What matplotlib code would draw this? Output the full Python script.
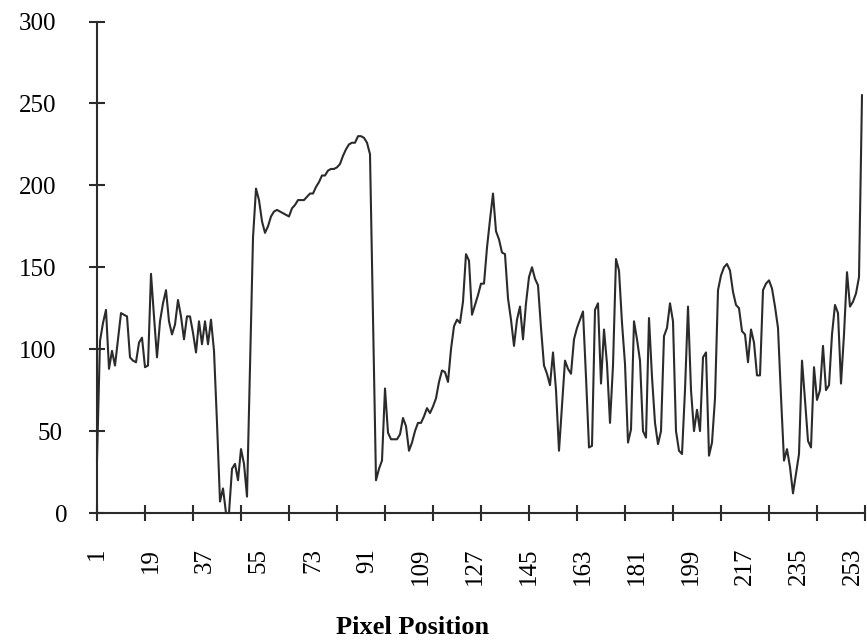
import numpy as np
import matplotlib.pyplot as plt
from matplotlib.transforms import ScaledTranslation

# grey level along one row of the image
grey = [
    32, 105, 116, 124, 88, 99, 90, 106, 122, 121,
    120, 95, 93, 92, 104, 107, 89, 90, 146, 120,
    95, 117, 128, 136, 117, 109, 115, 130, 120, 106,
    120, 120, 110, 98, 117, 103, 117, 103, 118, 99,
    55, 7, 15, 0, 0, 27, 30, 20, 39, 30,
    10, 90, 168, 198, 191, 178, 171, 175, 181, 184,
    185, 184, 183, 182, 181, 186, 188, 191, 191, 191,
    193, 195, 195, 199, 202, 206, 206, 209, 210, 210,
    211, 213, 218, 222, 225, 226, 226, 230, 230, 229,
    226, 219, 120, 20, 27, 32, 76, 49, 45, 45,
    45, 48, 58, 53, 38, 43, 50, 55, 55, 59,
    64, 61, 65, 70, 80, 87, 86, 80, 100, 114,
    118, 116, 129, 158, 154, 121, 127, 133, 140, 140,
    162, 179, 195, 172, 167, 159, 158, 131, 118, 102,
    118, 126, 106, 128, 144, 150, 143, 139, 113, 90,
    85, 78, 98, 75, 38, 65, 93, 88, 85, 106,
    113, 118, 123, 83, 40, 41, 124, 128, 79, 112,
    91, 55, 90, 155, 148, 116, 91, 43, 51, 117,
    106, 93, 50, 46, 119, 83, 55, 42, 50, 108,
    113, 128, 117, 50, 38, 36, 75, 126, 75, 50,
    63, 50, 95, 98, 35, 43, 70, 136, 145, 150,
    152, 148, 135, 127, 125, 111, 109, 92, 112, 104,
    84, 84, 136, 140, 142, 137, 126, 113, 71, 32,
    39, 28, 12, 24, 36, 93, 69, 44, 40, 89,
    69, 75, 102, 75, 78, 109, 127, 122, 79, 109,
    147, 126, 129, 134, 144, 255,
]
pos = np.arange(1, len(grey) + 1)
label_pos = list(range(1, 254, 18))
y_ticks = [0, 50, 100, 150, 200, 250, 300]

plt.rcParams['font.family'] = 'Liberation Serif'
ink = '#2b2b2b'

fig = plt.figure(figsize=(8.67, 6.41), dpi=100)
ax = fig.add_axes([97/867, 1 - 513/641, 768/867, 491.5/641])

ax.plot(pos, grey, color=ink, lw=1.5, clip_on=False)

ax.set_xlim(1, 257)
ax.set_ylim(0, 300)
for s in ['top', 'right']:
    ax.spines[s].set_visible(False)
for s in ['left', 'bottom']:
    ax.spines[s].set_color(ink)
    ax.spines[s].set_linewidth(1.5)

# tick marks every 16 pixels, labels every 18
ax.xaxis.remove_overlapping_locs = False
ax.set_xticks(range(1, 258, 16))
ax.set_xticklabels([])
ax.set_xticks(label_pos, minor=True)
ax.set_xticklabels([str(p) for p in label_pos], minor=True, rotation=90,
                   fontsize=18, va='top')
ax.tick_params(axis='x', which='major', direction='inout', length=12, width=1.5, color=ink)
ax.tick_params(axis='x', which='minor', length=0, pad=25)

ax.set_yticks(y_ticks)
ax.set_yticklabels([str(v) for v in y_ticks], fontsize=18)
ax.tick_params(axis='y', direction='inout', length=12, width=1.5, color=ink, pad=23)
for lab in ax.get_yticklabels():
    dx = 5.5 * (3 - len(lab.get_text())) / 100
    lab.set_transform(lab.get_transform() + ScaledTranslation(dx, 0, fig.dpi_scale_trans))

fig.text(413/867, 1 - 628/641, 'Pixel Position', fontsize=19, fontweight='bold',
         ha='center', va='center')

fig.savefig('out.png', dpi=100)
